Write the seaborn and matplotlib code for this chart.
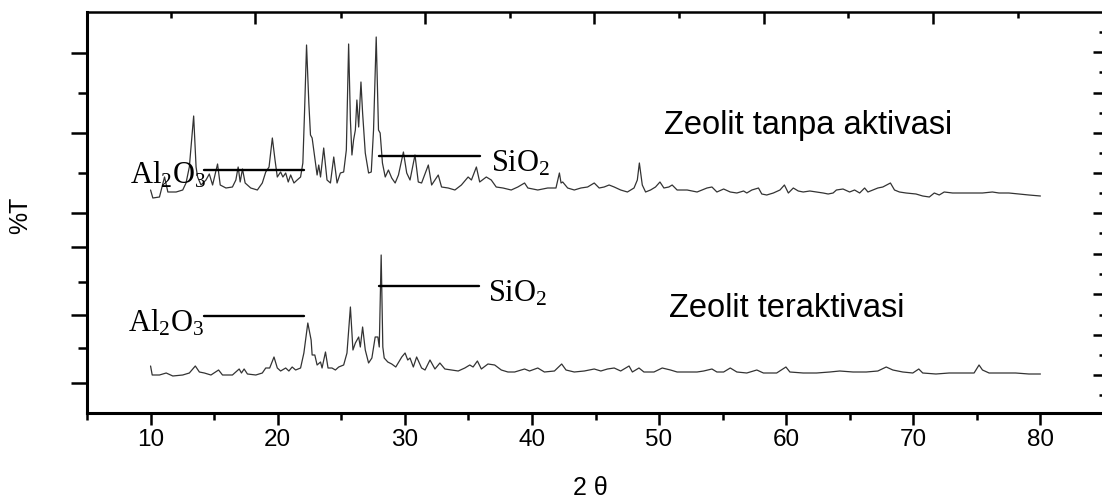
import matplotlib
matplotlib.use("Agg")
import matplotlib.pyplot as plt
import seaborn as sns

# Data XRD: 2 theta dan %T (satuan relatif)
theta_tanpa = [10.0, 10.18, 10.70, 11.10, 11.36, 12.01, 12.53, 12.79, 13.05, 13.39, 13.58, 13.70, 13.97,
               14.36, 14.62, 14.88, 15.27, 15.48, 15.93, 16.44, 16.71, 16.89, 17.05, 17.23, 17.44, 17.88,
               18.40, 18.79, 19.06, 19.32, 19.58, 19.79, 19.97, 20.23, 20.41, 20.63, 20.83, 21.02, 21.28,
               21.53, 21.80, 21.98, 22.11, 22.27, 22.45, 22.58, 22.71, 22.97, 23.10, 23.23, 23.37, 23.62,
               23.88, 24.15, 24.41, 24.67, 24.93, 25.19, 25.40, 25.58, 25.72, 25.84, 25.97, 26.11, 26.23,
               26.37, 26.55, 26.68, 26.89, 27.15, 27.36, 27.54, 27.75, 27.93, 28.06, 28.24, 28.46, 28.71,
               28.97, 29.24, 29.50, 29.89, 30.15, 30.41, 30.80, 31.06, 31.32, 31.85, 32.11, 32.63, 32.89,
               33.41, 33.94, 34.45, 34.98, 35.24, 35.63, 35.89, 36.41, 36.80, 37.19, 37.72, 38.37, 38.89,
               39.42, 39.68, 40.46, 41.24, 41.89, 42.16, 42.29, 42.42, 42.81, 43.33, 43.85, 44.38, 44.90,
               45.29, 45.68, 46.07, 46.47, 46.98, 47.51, 48.03, 48.29, 48.45, 48.68, 48.94, 49.33, 49.72,
               50.07, 50.38, 50.77, 51.03, 51.42, 52.21, 52.99, 53.77, 54.16, 54.55, 55.08, 55.60, 56.12,
               56.65, 56.90, 57.30, 57.82, 58.08, 58.47, 58.99, 59.51, 59.86, 60.17, 60.56, 60.95, 61.34,
               61.86, 62.39, 62.91, 63.30, 63.69, 63.95, 64.47, 64.99, 65.38, 65.78, 66.17, 66.43, 66.82,
               67.21, 67.60, 68.20, 68.52, 68.91, 69.43, 70.21, 70.74, 71.26, 71.65, 72.04, 72.43, 73.09,
               73.87, 74.65, 75.44, 76.22, 76.74, 77.52, 78.31, 79.09, 80.0]
t_tanpa = [223, 215, 216, 236, 221, 221, 223, 230, 246, 297, 246, 236, 228,
           233, 239, 228, 249, 228, 225, 226, 233, 246, 231, 244, 230, 225,
           223, 230, 241, 246, 275, 253, 236, 241, 236, 240, 231, 238, 230,
           233, 236, 250, 300, 368, 310, 278, 275, 250, 238, 248, 236, 265,
           233, 230, 256, 230, 240, 241, 263, 369, 293, 258, 273, 283, 313,
           286, 331, 300, 260, 240, 241, 283, 376, 283, 280, 250, 236, 243,
           235, 230, 238, 261, 240, 233, 258, 231, 230, 248, 228, 238, 226,
           225, 223, 228, 236, 233, 246, 231, 236, 233, 226, 225, 223, 226,
           230, 225, 223, 225, 225, 240, 230, 231, 225, 223, 225, 226, 230,
           225, 226, 228, 226, 223, 221, 225, 233, 250, 228, 221, 223, 226,
           231, 225, 226, 228, 223, 223, 221, 225, 226, 221, 224, 221, 220,
           222, 220, 223, 225, 219, 218, 220, 223, 228, 220, 225, 222, 221,
           222, 221, 220, 219, 220, 223, 224, 221, 223, 220, 225, 221, 223,
           225, 226, 230, 223, 221, 220, 219, 217, 216, 220, 218, 221, 220,
           220, 220, 220, 221, 220, 220, 219, 218, 217]

theta_aktif = [10.0, 10.13, 10.70, 11.23, 11.75, 12.53, 13.05, 13.52, 13.84, 14.23, 14.75, 15.35, 15.66,
               16.44, 16.97, 17.15, 17.36, 17.62, 18.28, 18.79, 19.06, 19.37, 19.71, 19.97, 20.23, 20.63,
               20.88, 21.14, 21.41, 21.80, 22.06, 22.37, 22.63, 22.71, 22.92, 23.10, 23.37, 23.49, 23.76,
               23.96, 24.27, 24.54, 24.80, 25.19, 25.45, 25.72, 25.92, 26.11, 26.37, 26.50, 26.68, 26.89,
               27.15, 27.41, 27.67, 27.88, 27.99, 28.14, 28.27, 28.38, 28.66, 28.97, 29.29, 29.76, 30.02,
               30.23, 30.41, 30.67, 30.93, 31.32, 31.59, 31.98, 32.37, 32.76, 33.15, 33.67, 34.20, 34.72,
               35.11, 35.37, 35.71, 36.02, 36.54, 37.07, 37.59, 38.11, 38.64, 39.42, 39.81, 40.46, 40.98,
               41.77, 42.34, 42.68, 43.33, 44.12, 44.90, 45.42, 45.94, 46.47, 46.98, 47.64, 47.90, 48.42,
               48.81, 49.60, 50.25, 50.90, 51.42, 52.21, 52.99, 53.51, 54.16, 54.55, 55.08, 55.60, 56.12,
               56.90, 57.69, 58.21, 59.25, 59.98, 60.29, 61.34, 62.39, 63.43, 64.21, 65.26, 66.30, 67.21,
               67.87, 68.39, 69.17, 69.96, 70.43, 70.74, 71.78, 72.82, 73.87, 74.78, 75.17, 75.44, 75.96,
               77.00, 78.05, 79.09, 80.0]
t_aktif = [47, 38, 38, 40, 37, 38, 40, 47, 41, 40, 38, 43, 38,
           38, 44, 40, 44, 39, 38, 40, 45, 45, 56, 45, 42, 45,
           42, 46, 43, 45, 60, 90, 73, 58, 58, 48, 51, 45, 61,
           45, 45, 43, 46, 48, 60, 106, 63, 70, 76, 66, 86, 63,
           50, 55, 76, 76, 66, 158, 66, 55, 51, 49, 46, 56, 60,
           53, 55, 46, 56, 45, 43, 53, 44, 50, 44, 43, 42, 45,
           48, 46, 52, 44, 49, 48, 43, 41, 41, 44, 42, 45, 41,
           42, 49, 43, 41, 42, 44, 42, 44, 45, 42, 47, 41, 45,
           41, 41, 45, 43, 41, 41, 41, 42, 44, 41, 41, 45, 41,
           40, 43, 40, 40, 46, 41, 40, 40, 41, 42, 41, 41, 42,
           46, 43, 41, 40, 44, 40, 39, 40, 40, 40, 48, 43, 40,
           40, 40, 39, 39]

sns.set_style("ticks")
plt.rcParams['font.family'] = ['Liberation Sans', 'DejaVu Sans']
plt.rcParams['mathtext.fontset'] = 'custom'
plt.rcParams['mathtext.rm'] = 'Liberation Serif'
plt.rcParams['text.color'] = 'black'
plt.rcParams['axes.labelcolor'] = 'black'
plt.rcParams['xtick.color'] = 'black'
plt.rcParams['ytick.color'] = 'black'

fig = plt.figure(figsize=(11.02, 4.99), dpi=100)
ax = fig.add_axes([87 / 1102, 86 / 499, 1017 / 1102, 401 / 499])

garis = '#333333'
sns.lineplot(x=theta_tanpa, y=t_tanpa, ax=ax, color=garis, lw=0.9, estimator=None, sort=False)
sns.lineplot(x=theta_aktif, y=t_aktif, ax=ax, color=garis, lw=0.9, estimator=None, sort=False)

ax.set_xlim(5, 84.62)
ax.set_ylim(0, 401)

# garis penunjuk puncak
ax.plot([14.23, 22.06], [243, 243], color='black', lw=1.7)
ax.plot([28.0, 35.92], [257, 257], color='black', lw=1.7)
ax.plot([14.23, 22.06], [97, 97], color='black', lw=1.7)
ax.plot([28.0, 35.85], [127, 127], color='black', lw=1.7)

serif = ['Liberation Serif', 'DejaVu Serif']
ax.text(8.36, 230, r'Al$\mathrm{_2}$O$\mathrm{_3}$', family=serif, fontsize=22, ha='left', va='baseline')
ax.text(36.78, 241, r'SiO$\mathrm{_2}$', family=serif, fontsize=22, ha='left', va='baseline')
ax.text(8.20, 82, r'Al$\mathrm{_2}$O$\mathrm{_3}$', family=serif, fontsize=22, ha='left', va='baseline')
ax.text(36.54, 111, r'SiO$\mathrm{_2}$', family=serif, fontsize=22, ha='left', va='baseline')

ax.text(50.40, 279, 'Zeolit tanpa aktivasi', fontsize=23.5, ha='left', va='baseline', color='black')
ax.text(50.80, 96, 'Zeolit teraktivasi', fontsize=23.5, ha='left', va='baseline', color='black')

# sumbu bawah dan kiri
ax.set_xticks(range(10, 90, 10))
ax.set_xticks(range(5, 90, 10), minor=True)
ax.set_yticks([360, 280, 200, 166, 98, 30])
ax.set_yticks([320, 240, 131, 65], minor=True)
ax.set_yticklabels([])
ax.tick_params(axis='x', which='major', direction='out', length=8.6, width=1.8, labelsize=17.5, pad=3)
ax.tick_params(axis='x', which='minor', direction='out', length=5, width=1.8)
ax.tick_params(axis='y', which='major', direction='out', length=11.5, width=1.8)
ax.tick_params(axis='y', which='minor', direction='out', length=6.5, width=1.8)
ax.tick_params(top=False, right=False, which='both')
for side in ['left', 'bottom']:
    ax.spines[side].set_linewidth(2.2)
    ax.spines[side].set_color('black')
ax.spines['top'].set_visible(False)
ax.spines['right'].set_visible(False)

# sumbu atas dan kanan (skala lain)
atas = ax.secondary_xaxis('top')
atas.set_xticks([18.22, 31.61, 44.92, 58.23, 71.55])
atas.set_xticks([11.64, 24.96, 38.27, 51.58, 64.89, 78.20], minor=True)
atas.set_xticklabels([])
atas.tick_params(which='major', direction='in', length=8.6, width=1.8)
atas.tick_params(which='minor', direction='in', length=4.3, width=1.8)
atas.spines['top'].set_linewidth(1.8)
atas.spines['top'].set_color('black')

kanan = ax.secondary_yaxis('right')
kanan.set_yticks([361, 320, 280, 240, 200, 159, 119, 78, 38])
kanan.set_yticks([381, 341, 300, 260, 220, 180, 139, 98, 58, 18], minor=True)
kanan.set_yticklabels([])
kanan.tick_params(which='major', direction='in', length=8, width=1.8)
kanan.tick_params(which='minor', direction='in', length=3.6, width=1.8)

ax.set_xlabel('2 θ', fontsize=18)
ax.xaxis.set_label_coords(0.4946, -0.158)
ax.set_ylabel('%T', fontsize=18)
ax.yaxis.set_label_coords(-0.054, 0.494)

fig.savefig('out.png', dpi=100)
plt.close(fig)
